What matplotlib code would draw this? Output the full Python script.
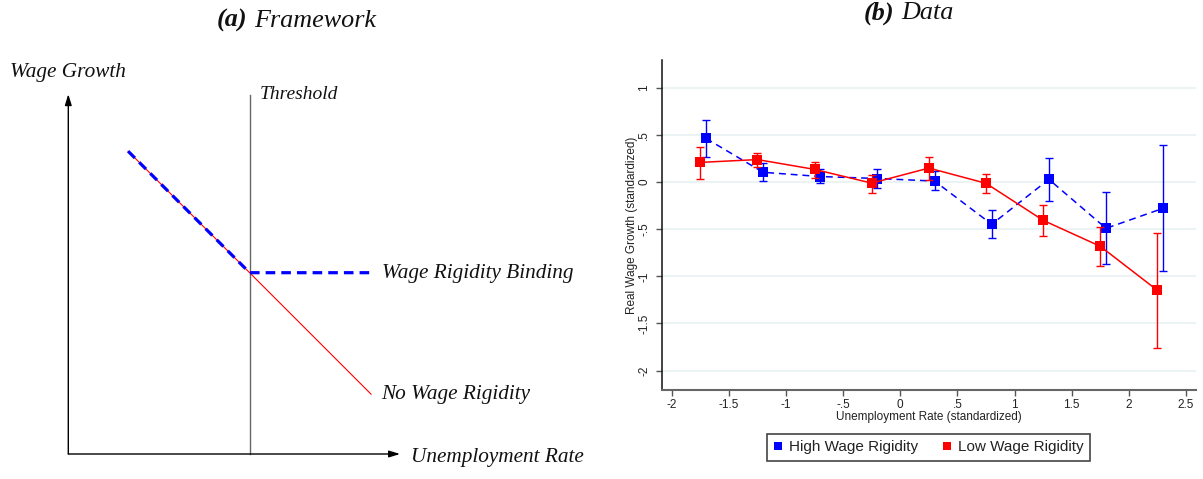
import matplotlib
matplotlib.use("Agg")
import matplotlib.pyplot as plt
from matplotlib.lines import Line2D

# ---------------- data ----------------
# Panel (a): stylised framework (threshold unemployment normalised to 1)
framework_u = [0.33, 1.0, 1.67]
flexible_wage = [1.67, 1.0, 0.33]      # no wage rigidity
rigid_wage = [1.67, 1.0, 1.0]          # wage rigidity binding past the threshold
threshold_u = 1.0
axis_u_max = 1.83
axis_w_max = 1.985

# Panel (b): binned real wage growth vs unemployment, 95% CIs
high_x = [-1.7, -1.2, -0.7, -0.2, 0.3, 0.8, 1.3, 1.8, 2.3]
high_mean = [0.465, 0.105, 0.060, 0.039, 0.012, -0.447, 0.030, -0.490, -0.277]
high_lo = [0.271, 0.014, -0.011, -0.065, -0.085, -0.597, -0.198, -0.869, -0.943]
high_hi = [0.659, 0.200, 0.140, 0.141, 0.116, -0.300, 0.260, -0.108, 0.397]

low_x = [-1.75, -1.25, -0.75, -0.25, 0.25, 0.75, 1.25, 1.75, 2.25]
low_mean = [0.210, 0.240, 0.136, -0.010, 0.150, -0.012, -0.405, -0.681, -1.149]
low_lo = [0.037, 0.164, 0.047, -0.111, 0.024, -0.111, -0.566, -0.892, -1.765]
low_hi = [0.374, 0.314, 0.219, 0.081, 0.270, 0.085, -0.239, -0.471, -0.537]

x_ticks = [-2, -1.5, -1, -0.5, 0, 0.5, 1, 1.5, 2, 2.5]
x_tick_labels = ["-2", "-1.5", "-1", "-.5", "0", ".5", "1", "1.5", "2", "2.5"]
y_ticks = [1, 0.5, 0, -0.5, -1, -1.5, -2]
y_tick_labels = ["1", ".5", "0", "-.5", "-1", "-1.5", "-2"]

series_names = ["High Wage Rigidity", "Low Wage Rigidity"]

# ---------------- figure ----------------
W, H = 1203, 479
fig = plt.figure(figsize=(W / 100, H / 100), dpi=100)

SERIF = "Liberation Serif"
SANS = "Liberation Sans"
BLUE = "#0000ff"
RED = "#ff0000"
INK = "#111111"

# ---- panel (a) ----
scale = 181.3          # pixels per framework unit
ox, oy = 68.3, 454.0   # origin in pixels (from top-left)
ax_a = fig.add_axes([0, 0, 600 / W, 1])
ax_a.axis("off")
ax_a.set_xlim((0 - ox) / scale, (600 - ox) / scale)
ax_a.set_ylim((oy - H) / scale, oy / scale)

arrow = dict(arrowstyle="-|>,head_length=0.65,head_width=0.2", lw=1.0,
             color="black", shrinkA=0, shrinkB=0)
ax_a.annotate("", xy=(axis_u_max, 0), xytext=(0, 0), arrowprops=arrow)
ax_a.annotate("", xy=(0, axis_w_max), xytext=(0, 0), arrowprops=arrow)
ax_a.plot([threshold_u, threshold_u], [0, 1.98], color="#666666", lw=1.0)
ax_a.plot([framework_u[0], framework_u[-1]], [flexible_wage[0], flexible_wage[-1]],
          color=RED, lw=0.8, zorder=3)
ax_a.plot(framework_u, rigid_wage, color=BLUE, lw=2.3,
          linestyle=(0, (3.0, 1.9)), dash_capstyle="butt", zorder=4)

lab = dict(family=SERIF, style="italic", color=INK, va="baseline", ha="left")
ax_a.text((10 - ox) / scale, (oy - 77) / scale, "Wage Growth", fontsize=15.3, **lab)
ax_a.text((260 - ox) / scale, (oy - 99.3) / scale, "Threshold", fontsize=14, **lab)
ax_a.text((381.7 - ox) / scale, (oy - 277.7) / scale, "Wage Rigidity Binding",
          fontsize=15.3, **lab)
ax_a.text((381 - ox) / scale, (oy - 399.3) / scale, "No Wage Rigidity",
          fontsize=15.3, **lab)
ax_a.text((410.7 - ox) / scale, (oy - 461.7) / scale, "Unemployment Rate",
          fontsize=15.3, **lab)

# ---- panel (b) ----
left, right, top, bottom = 662.3, 1196.0, 60.0, 390.0
ax_b = fig.add_axes([left / W, 1 - bottom / H, (right - left) / W, (bottom - top) / H])
ax_b.set_xlim(-2.082, 2.587)
ax_b.set_ylim(-2.206, 1.297)
for s in ("top", "right"):
    ax_b.spines[s].set_visible(False)
ax_b.spines["left"].set_color("#111111")
ax_b.spines["left"].set_linewidth(1.1)
ax_b.spines["bottom"].set_color("#666666")
ax_b.spines["bottom"].set_linewidth(1.5)

ax_b.set_yticks(y_ticks)
ax_b.set_yticklabels(y_tick_labels, rotation=90, va="center")
ax_b.set_xticks(x_ticks)
ax_b.set_xticklabels(x_tick_labels)
ax_b.tick_params(axis="both", direction="out", length=4.3, width=1.0,
                 color="#555555", labelsize=8.5, labelcolor="#222222")
ax_b.tick_params(axis="x", pad=2.5)
ax_b.tick_params(axis="y", pad=4.5)
for t in ax_b.get_xticklabels() + ax_b.get_yticklabels():
    t.set_fontfamily(SANS)
ax_b.yaxis.grid(True, color="#eaf2f3", lw=1.3)
ax_b.set_axisbelow(True)

ax_b.set_xlabel("Unemployment Rate (standardized)", family=SANS, fontsize=8.5,
                color="#222222")
ax_b.set_ylabel("Real Wage Growth (standardized)", family=SANS, fontsize=8.5,
                color="#222222")
ax_b.xaxis.set_label_coords(0.5, -0.081)
ax_b.xaxis.label.set_va("center")
ax_b.yaxis.set_label_coords(-0.057, 0.5)
ax_b.yaxis.label.set_va("center")

def draw_series(x, mean, lo, hi, color, ls, z):
    yerr = [[m - l for m, l in zip(mean, lo)], [h - m for m, h in zip(mean, hi)]]
    ax_b.errorbar(x, mean, yerr=yerr, fmt="none", ecolor=color, elinewidth=1.0,
                  capsize=2.8, capthick=1.0, zorder=z)
    ax_b.plot(x, mean, color=color, lw=1.1, linestyle=ls, zorder=z + 0.1)
    ax_b.plot(x, mean, linestyle="none", marker="s", markersize=6.7,
              color=color, markeredgewidth=0, zorder=z + 0.2)

draw_series(high_x, high_mean, high_lo, high_hi, BLUE, (0, (4.5, 3.2)), 3)
draw_series(low_x, low_mean, low_lo, low_hi, RED, "-", 4)

handles = [Line2D([], [], linestyle="none", marker="s", markersize=5.8,
                  color=c, markeredgewidth=0) for c in (BLUE, RED)]
leg = fig.legend(handles, series_names, loc="center",
                 bbox_to_anchor=(928.7 / W, 1 - 447.5 / H), ncol=2,
                 prop={"family": SANS, "size": 11}, frameon=True, fancybox=False,
                 edgecolor="#444444", framealpha=1, handlelength=0.6,
                 handletextpad=0.45, columnspacing=1.55, borderpad=0.4)
leg.get_frame().set_linewidth(1.2)
for t in leg.get_texts():
    t.set_color("#222222")

# ---- panel titles: bold italic letter + italic caption ----
def panel_title(cx, baseline, letter, caption, size=18.8):
    y = 1 - baseline / H
    t1 = fig.text(0, y, letter, family=SERIF, style="italic", weight="bold",
                  fontsize=size, color=INK, va="baseline", ha="left")
    t2 = fig.text(0, y, caption, family=SERIF, style="italic",
                  fontsize=size, color=INK, va="baseline", ha="left")
    r = fig.canvas.get_renderer()
    w1 = t1.get_window_extent(r).width
    w2 = t2.get_window_extent(r).width
    gap = 0.27 * size * 100 / 72
    x0 = cx - (w1 + gap + w2) / 2
    t1.set_x(x0 / W)
    t2.set_x((x0 + w1 + gap) / W)

panel_title(296.5, 26.7, "(a)", "Framework")
panel_title(908.7, 19.3, "(b)", "Data")

fig.savefig("out.png", dpi=100, facecolor="white")
